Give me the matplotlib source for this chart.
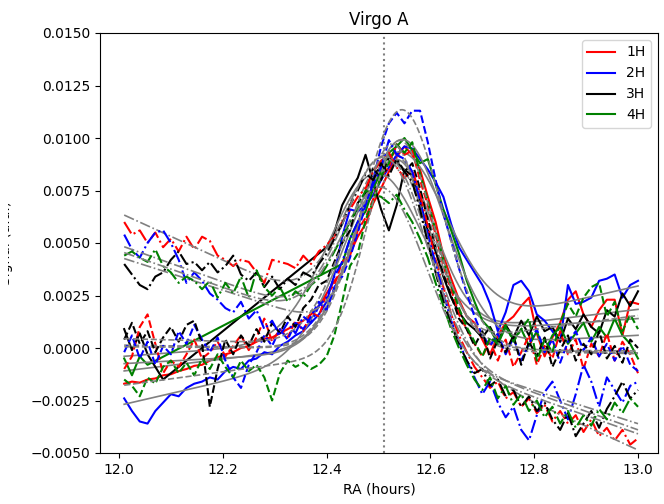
import numpy as np
import matplotlib
matplotlib.use("Agg")
import matplotlib.pyplot as plt
from matplotlib.transforms import Bbox

# ─────────────────────────────────────────────────────────────
# Drift scans across Virgo A, four horns x three passes.
# Signal in units of 1e-3 (a.u.), sampled every 0.015 h from 12.01 h.
# nan = sample lost (receiver dropout)
# ─────────────────────────────────────────────────────────────
nan = np.nan
RA0 = 12.01
RA_STEP = 0.015
SCALE = 1e-3

h1_solid = [-1.7, -1.6, -1.65, -1.5, -1.45, -1.3, -1.25, -1.1, -1.0, -0.85,
            -0.8, -0.6, -0.45, -0.3, -0.2, 0.0, 0.1, 0.3, 0.45, 0.5,
            0.7, 0.9, 1.1, 1.3, 1.6, 2.0, 2.6, 3.2, 3.6, 4.5,
            5.3, 5.9, 6.9, 7.6, 8.4, 9.1, 9.6, 9.2, 8.5, 7.2,
            6.0, 4.4, 3.3, 2.3, 1.5, 1.2, 0.4, -0.3, 0.6, 1.2,
            1.5, 2.0, 2.4, 0.7, -0.4, 0.5, 1.2, 2.3, 2.7, 1.6,
            1.0, 1.8, 2.3, 2.3, 0.6, 2.2, 2.1]
h2_solid = [-2.4, -3.0, -3.5, -3.6, -3.0, -2.6, -2.2, -2.3, -1.9, -1.7,
            -1.6, -1.4, -1.5, -1.1, -0.9, -1.0, -0.6, -0.5, -0.2, -0.3,
            0.1, 0.3, 0.6, 0.8, 1.2, 1.6, 2.2, 3.5, 5.3, 6.6,
            6.5, 6.8, 7.3, 8.0, 8.6, 9.2, 9.6, 9.5, 9.0, 8.5,
            7.9, 7.2, 5.9, 4.8, 4.2, 3.6, 3.0, 2.1, 0.8, 1.7,
            3.0, 3.2, 2.7, 1.6, 1.3, 0.8, 0.3, 3.0, 2.1, 2.2,
            2.4, 3.2, 3.3, 3.5, 2.4, 3.0, 3.2]
h3_solid = [0.9, -0.1, 0.7, -0.3, -0.9, -1.5,
            nan, nan, nan, nan, nan, nan, nan, nan, nan, nan,
            nan, nan, nan, nan, nan, nan, nan, nan, nan, nan,
            4.8, 5.5, 6.8, 7.5, 8.1, 9.2, 7.9, 6.6, 5.6, 6.8,
            8.5, 8.2, 7.0, 5.6, 4.6, 3.4, 2.4, 1.7, 1.2, 0.9,
            0.5, 1.0, 0.3, 1.1, 0.5, 1.3, 0.6, 1.5, 0.8, 1.0,
            0.3, 1.4, 0.9, 1.6, 1.0, 0.7, 1.8, 1.5, 2.6, 2.0, 2.7]
h4_solid = [-0.5, -1.3, -0.4, -0.8,
            nan, nan, nan, nan, nan, nan, nan, nan, nan, nan, nan, nan,
            nan, nan, nan, nan, nan, nan, nan, nan, nan, nan, nan, nan,
            4.0, 5.2, 6.0, 6.5, 7.6, 8.4, 9.3, 9.6, 10.0, 9.4,
            8.8, 9.0, 7.8, 6.6, 5.6, 4.5, 3.2, 2.2, 1.3, 0.9,
            0.2, 1.0, 0.4, 0.9, 0.1, 0.8, -0.2, 0.6, 1.0, 0.2,
            0.7, 1.2, 0.3, 1.0, 0.5, 1.4, 0.6, 0.2, -0.5]

h1_dashed = [-1.0, -0.4, 1.0, 1.6, 0.2, -1.2, -0.6, -0.9, -0.3, 0.4,
             -0.5, -0.2, 0.3, -0.4, 0.1, 0.6, -0.1, 0.5, 1.4, 0.3,
             0.9, 0.5, 1.3, 0.8, 1.7, 1.5, 2.6, 3.0, 4.1, 4.4,
             5.6, 6.2, 7.1, 8.2, 8.6, 9.7, 9.2, 9.4, 8.0, 6.8,
             5.4, 3.9, 2.8, 1.6, 0.9, 0.2, -0.4, 0.3, -0.6, 0.4,
             -0.9, -0.2, 0.6, -0.8, 0.1, -0.5, 0.8, -0.3, 0.4, -1.0,
             0.2, -0.4, 0.7, -0.6, 0.3, -0.3, -1.2]
h2_dashed = [-0.2, 0.6, -0.5, 0.3, -0.8, 0.1, -0.3, 0.8, 0.2, 1.1,
             0.4, -0.2, 0.5, -0.6, -1.4, -1.9, -0.8, -0.2, 0.6, 0.1,
             0.9, 0.4, 1.2, 0.9, 1.5, 2.2, 1.8, 2.9, 3.4, 4.3,
             5.5, 6.8, 8.0, 9.6, 10.7, 11.2, 10.7, 11.3, 11.3, 9.8,
             8.0, 6.4, 5.1, 3.8, 2.6, 1.5, 0.6, 0.1, 0.7, -0.3,
             0.5, -0.6, 0.2, 0.9, -0.2, 0.4, -0.7, 0.3, 0.8, -0.1,
             0.5, -0.4, 0.2, -0.6, 0.1, -0.8, -1.1]
h3_dashed = [0.4, 1.2, 0.2, 0.8, -0.2, 0.5, 1.0, 0.3, 1.1, 1.3,
             0.2, -2.8, -1.0, 0.4, -0.3, 0.6, 0.1, 0.9, 0.3, 1.2,
             0.7, 1.5, 1.0, 1.9, 2.3, 3.0, 3.2, 4.1, 5.0, 5.6,
             6.9, 7.4, 8.6, 8.0, 9.1, 8.9, 8.4, 8.8, 7.6, 6.1,
             4.8, 3.5, 2.5, 1.4, 0.9, 0.1, 0.8, -0.5, 0.4, -0.2,
             0.6, -0.8, 0.3, -0.4, 0.5, -0.9, -0.1, 0.6, -0.6, 0.2,
             -0.3, 0.8, -0.5, 0.1, -0.7, 0.4, 0.0]
h4_dashed = [-1.5, -1.8, -2.3, -1.4, -1.7, -0.9, -0.6, -1.2, -0.7, -1.3,
             -0.5, -1.0, -0.3, -0.9, -1.4, -0.6, -1.1, -0.8, -1.4, -2.5,
             -1.2, -0.6, -0.9, -0.7, -1.0, -0.8, -0.4, 0.6, 2.2, 3.9,
             4.5, 6.1, 7.0, 8.2, 8.8, 9.7, 9.3, 9.8, 8.3, 7.0,
             5.6, 4.2, 3.0, 1.9, 1.0, 0.3, -0.4, 0.5, 0.2, 1.1,
             0.3, 0.9, 1.4, -0.6, 0.4, -0.2, 1.2, 2.1, 1.5, 2.4,
             2.9, 3.1, 1.5, 2.2, 0.8, 1.6, 0.9]

h1_dashdot = [6.0, 5.4, 5.6, 5.0, 5.5, 4.8, 5.2, 4.6, 5.3, 4.7,
              5.3, 5.1, 4.4, 4.2, 3.9, 4.2, 4.1, 3.6, 3.1, 4.2,
              4.1, 4.0, 3.8, 4.4, 4.0, 4.6, 4.9, 5.3, 6.0, 6.6,
              7.2, 7.6, 8.4, 8.9, 9.3, 8.6, 8.1, 8.5, 7.3, 5.8,
              4.2, 2.9, 1.6, 0.6, -0.2, -0.9, -1.4, -1.9, -1.6, -2.4,
              -2.1, -2.8, -2.4, -3.1, -2.7, -3.5, -3.0, -3.6, -3.2, -4.0,
              -3.4, -4.2, -3.8, -4.4, -3.9, -4.6, -4.3]
h2_dashdot = [5.4, 4.7, 4.3, 5.0, 5.5, 5.6, 5.0, 4.2, 3.1, 3.6,
              3.2, 2.6, 2.3, 1.9, 1.7, 2.2, 1.4, 1.8, 0.9, 1.3,
              0.6, 1.2, 0.7, 1.5, 1.2, 2.0, 2.4, 3.4, 4.1, 5.2,
              6.0, 6.9, 7.8, 8.6, 9.9, 9.2, 9.0, 8.4, 7.0, 5.4,
              4.0, 2.6, 1.3, 0.3, -0.6, -1.4, -2.2, -1.6, -2.6, -3.3,
              -2.8, -3.9, -4.4, -3.2, -2.1, -1.6, -2.5, -3.4, -2.2, -0.8,
              -1.6, -2.8, -1.4, -2.0, -2.6, -1.8, -1.6]
h3_dashdot = [4.0, 3.5, 3.0, 2.8, 3.4, 3.6, 4.2, 4.6, 4.0, 4.1,
              3.7, 4.1, 3.6, 3.9, 4.4, 3.5, 3.2, 3.6, 2.9, 3.4,
              2.8, 3.3, 3.0, 3.6, 3.4, 4.0, 4.5, 5.2, 5.9, 6.8,
              7.5, 8.3, 8.0, 8.8, 8.2, 9.0, 8.4, 7.9, 6.6, 5.0,
              3.6, 2.2, 1.1, 0.2, -0.6, -1.2, -1.0, -1.8, -1.5, -2.3,
              -2.0, -2.8, -2.3, -3.0, -2.6, -3.4, -3.9, -3.1, -4.2, -3.6,
              -3.0, -3.8, -2.9, -2.3, -1.6, -2.4, -2.0]
h4_dashdot = [4.4, 4.6, 4.3, 4.1, 4.7, 3.9, 3.6, 3.1, 3.4, 3.2,
              2.8, 3.2, 2.4, 3.1, 2.6, 3.4, 2.4, 3.7, 2.9, 2.5,
              2.9, 2.2, 2.7, 2.4, 3.0, 3.3, 3.9, 4.6, 5.3, 6.0,
              6.7, 7.5, 7.3, 7.2, 6.9, 7.3, 6.6, 6.0, 5.2, 4.3,
              3.1, 2.0, 0.9, 0.0, -0.8, -1.5, -2.0, -1.4, -2.4, -1.8,
              -2.7, -2.2, -3.0, -2.5, -3.3, -2.8, -3.6, -3.0, -3.8, -3.2,
              -3.7, -2.9, -3.4, -2.6, -3.1, -2.4, -2.8]

HORNS = ["1H", "2H", "3H", "4H"]
COLORS = ["r", "b", "k", "g"]
TRANSIT_RA = 12.51

passes = [
    ("-", [h1_solid, h2_solid, h3_solid, h4_solid]),
    ("--", [h1_dashed, h2_dashed, h3_dashed, h4_dashed]),
    ("-.", [h1_dashdot, h2_dashdot, h3_dashdot, h4_dashdot]),
]


def fit_peak(x, y):
    """Gaussian + linear baseline, grid over centre/width, linear LSQ for the rest."""
    best = None
    for c in np.arange(12.45, 12.65, 0.005):
        for s in np.arange(0.03, 0.15, 0.0025):
            g = np.exp(-0.5 * ((x - c) / s) ** 2)
            M = np.column_stack([g, np.ones_like(x), x - 12.5])
            coef = np.linalg.lstsq(M, y, rcond=None)[0]
            r = np.sum((M @ coef - y) ** 2)
            if best is None or r < best[0]:
                best = (r, c, s, coef)
    return best[1:]


def model(x, c, s, coef):
    return coef[0] * np.exp(-0.5 * ((x - c) / s) ** 2) + coef[1] + coef[2] * (x - 12.5)


fig = plt.figure(figsize=(6.64, 5.04), dpi=100)
ax = fig.add_axes([100 / 664, 51 / 504, 558 / 664, 420 / 504])

x_fine = np.linspace(RA0, RA0 + RA_STEP * 66, 300)

for ls, scans in passes:
    for horn, color, vals in zip(HORNS, COLORS, scans):
        y = np.array(vals, dtype=float) * SCALE
        x = RA0 + RA_STEP * np.arange(len(y))
        ok = ~np.isnan(y)
        x, y = x[ok], y[ok]
        ax.plot(x, y, color=color, ls=ls, lw=1.5,
                label=horn if ls == "-" else None)
        c, s, coef = fit_peak(x, y)
        ax.plot(x_fine, model(x_fine, c, s, coef), color="grey", ls=ls, lw=1.2)

ax.axvline(TRANSIT_RA, color="grey", ls=":", lw=1.5)

ax.set_xlim(11.9634, 13.0385)
ax.set_ylim(-0.005, 0.015)
ax.set_xticks(np.arange(12.0, 13.01, 0.2))
ax.set_yticks(np.arange(-0.005, 0.01501, 0.0025))
ax.set_title("Virgo A", fontsize=12)
ax.set_xlabel("RA (hours)")
ax.set_ylabel("Signal (a.u.)")
ax.yaxis.set_label_coords(-0.156, 0.5)
ax.yaxis.label.set_clip_box(Bbox.from_extents(8, 0, 80, 504))
ax.yaxis.label.set_clip_on(True)
ax.legend(loc="upper right")

fig.savefig("out.png", dpi=100)
